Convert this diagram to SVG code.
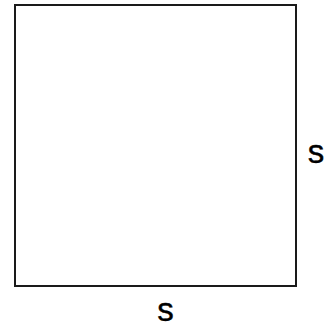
<svg xmlns="http://www.w3.org/2000/svg" width="334" height="329" viewBox="0 0 334 329">
<style>
.lbl{font-family:"Liberation Sans",Arial,sans-serif;font-size:33px;fill:#000;stroke:#000;stroke-width:0.4;text-anchor:middle}
</style>
<rect width="334" height="329" fill="#fff"/>
<g id="square"><rect x="15" y="5" width="281" height="281" fill="none" stroke="#1a1a1a" stroke-width="2"/></g>
<g id="label-right"><text class="lbl" x="316" y="163">s</text></g>
<g id="label-bottom"><text class="lbl" x="165.5" y="321">s</text></g>
</svg>
